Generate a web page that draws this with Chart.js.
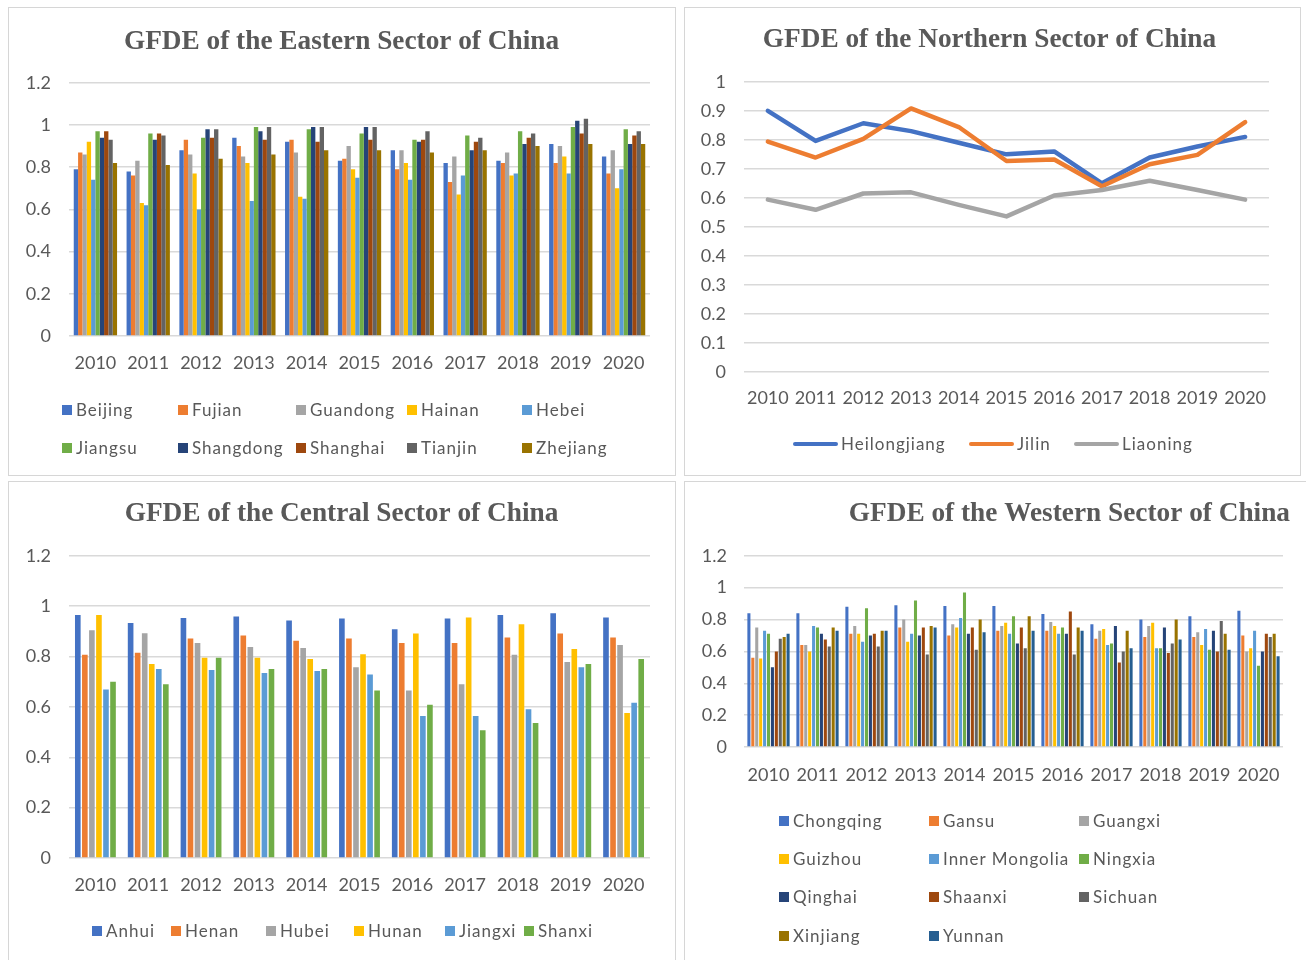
<!DOCTYPE html>
<html><head><meta charset="utf-8">
<script src="https://cdn.jsdelivr.net/npm/chart.js@4.4.0/dist/chart.umd.min.js"></script>
<style>
html,body{margin:0;padding:0;background:#fff;width:1306px;height:960px;overflow:hidden;position:relative;}
.panel{position:absolute;border:1px solid #d6d6d6;box-sizing:border-box;background:#fff;}
canvas{position:absolute;}
.leg{position:absolute;font-family:Lato,'Open Sans',sans-serif;font-size:17px;letter-spacing:1px;color:#595959;white-space:nowrap;line-height:20px;display:flex;align-items:center;transform:translateY(-50%);}
.leg i{display:inline-block;width:10px;height:10px;margin-right:4px;}
.leg b{display:inline-block;width:45px;height:4px;border-radius:2px;margin-right:3px;}
</style></head>
<body>
<div class="panel" style="left:8px;top:7px;width:668px;height:469px"></div>
<div class="panel" style="left:684px;top:7px;width:617px;height:469px"></div>
<div class="panel" style="left:8px;top:481px;width:668px;height:485px"></div>
<div class="panel" style="left:684px;top:481px;width:630px;height:485px"></div>
<canvas id="c1" width="668" height="469" style="left:8px;top:7px"></canvas>
<canvas id="c2" width="616" height="469" style="left:684px;top:7px"></canvas>
<canvas id="c3" width="668" height="485" style="left:8px;top:481px"></canvas>
<canvas id="c4" width="622" height="485" style="left:684px;top:481px"></canvas>
<script>
// ---------- data ----------
const years = ['2010','2011','2012','2013','2014','2015','2016','2017','2018','2019','2020'];

// Eastern sector
const eastNames = ['Beijing','Fujian','Guandong','Hainan','Hebei','Jiangsu','Shangdong','Shanghai','Tianjin','Zhejiang'];
const eBeijing   = [0.79,0.78,0.88,0.94,0.92,0.83,0.88,0.82,0.83,0.91,0.85];
const eFujian    = [0.87,0.76,0.93,0.90,0.93,0.84,0.79,0.73,0.82,0.82,0.77];
const eGuandong  = [0.86,0.83,0.86,0.85,0.87,0.90,0.88,0.85,0.87,0.90,0.88];
const eHainan    = [0.92,0.63,0.77,0.82,0.66,0.79,0.82,0.67,0.76,0.85,0.70];
const eHebei     = [0.74,0.62,0.60,0.64,0.65,0.75,0.74,0.76,0.77,0.77,0.79];
const eJiangsu   = [0.97,0.96,0.94,0.99,0.98,0.96,0.93,0.95,0.97,0.99,0.98];
const eShangdong = [0.94,0.93,0.98,0.97,0.99,0.99,0.92,0.88,0.91,1.02,0.91];
const eShanghai  = [0.97,0.96,0.94,0.93,0.92,0.93,0.93,0.92,0.94,0.96,0.95];
const eTianjin   = [0.93,0.95,0.98,0.99,0.99,0.99,0.97,0.94,0.96,1.03,0.97];
const eZhejiang  = [0.82,0.81,0.84,0.86,0.88,0.88,0.87,0.88,0.90,0.91,0.91];

// Northern sector
const northNames = ['Heilongjiang','Jilin','Liaoning'];
const nHeilongjiang = [0.90,0.796,0.857,0.83,0.79,0.75,0.76,0.65,0.739,0.777,0.81];
const nJilin        = [0.794,0.739,0.803,0.908,0.844,0.727,0.732,0.64,0.716,0.748,0.861];
const nLiaoning     = [0.594,0.559,0.615,0.619,0.576,0.536,0.608,0.627,0.659,0.627,0.594];

// Central sector
const centNames = ['Anhui','Henan','Hubei','Hunan','Jiangxi','Shanxi'];
const cAnhui   = [0.965,0.933,0.953,0.959,0.943,0.951,0.908,0.951,0.965,0.972,0.955];
const cHenan   = [0.807,0.815,0.871,0.883,0.863,0.871,0.854,0.854,0.875,0.891,0.875];
const cHubei   = [0.904,0.892,0.854,0.838,0.834,0.757,0.665,0.690,0.807,0.778,0.846];
const cHunan   = [0.965,0.770,0.795,0.795,0.790,0.809,0.891,0.955,0.928,0.830,0.576];
const cJiangxi = [0.669,0.750,0.746,0.735,0.742,0.729,0.564,0.564,0.591,0.757,0.616];
const cShanxi  = [0.700,0.690,0.795,0.750,0.750,0.665,0.608,0.507,0.536,0.770,0.790];

// Western sector
const westNames = ['Chongqing','Gansu','Guangxi','Guizhou','Inner Mongolia','Ningxia','Qinghai','Shaanxi','Sichuan','Xinjiang','Yunnan'];
const wChongqing = [0.84,0.84,0.88,0.89,0.885,0.885,0.835,0.77,0.80,0.82,0.855];
const wGansu     = [0.56,0.64,0.71,0.75,0.70,0.73,0.73,0.68,0.69,0.69,0.70];
const wGuangxi   = [0.75,0.64,0.76,0.80,0.77,0.76,0.785,0.73,0.76,0.72,0.60];
const wGuizhou   = [0.555,0.60,0.71,0.66,0.75,0.78,0.76,0.74,0.78,0.64,0.62];
const wInnerMong = [0.73,0.76,0.66,0.71,0.81,0.71,0.71,0.64,0.62,0.74,0.73];
const wNingxia   = [0.71,0.75,0.87,0.92,0.97,0.82,0.75,0.65,0.62,0.61,0.51];
const wQinghai   = [0.50,0.71,0.70,0.70,0.71,0.65,0.71,0.76,0.75,0.73,0.60];
const wShaanxi   = [0.60,0.675,0.71,0.75,0.75,0.75,0.85,0.53,0.59,0.60,0.71];
const wSichuan   = [0.68,0.63,0.63,0.58,0.61,0.62,0.58,0.60,0.65,0.79,0.69];
const wXinjiang  = [0.69,0.75,0.73,0.76,0.80,0.82,0.75,0.73,0.80,0.71,0.71];
const wYunnan    = [0.71,0.73,0.73,0.75,0.72,0.73,0.73,0.62,0.675,0.61,0.57];

// ---------- style ----------
const PALETTE = ['#4472C4','#ED7D31','#A5A5A5','#FFC000','#5B9BD5','#70AD47','#264478','#9E480E','#636363','#997300','#255E91'];
const TXT = '#595959';
const TICKFONT = {family:"Lato, 'Open Sans', sans-serif", size:18};
const TITLEFONT = {family:"'Liberation Serif','Times New Roman',serif", size:27.3, weight:'bold', lineHeight:1.2};

function barSets(names, series){
  return names.map((n,i)=>({label:n,data:series[i],backgroundColor:PALETTE[i],borderWidth:0}));
}

// shifts the title horizontally (Excel places it off the plot-area centre)
const titleShift = {
  id:'titleShift',
  afterLayout(chart, args, opts){
    const t = chart.titleBlock;
    if (t && opts.dx){ t.left += opts.dx; t.right += opts.dx; }
  }
};

function makeChart(id, type, datasets, o){
  return new Chart(document.getElementById(id), {
    type: type,
    data: {labels: years, datasets: datasets},
    plugins: [titleShift],
    options: {
      responsive:false, animation:false, devicePixelRatio:1,
      layout:{padding:o.pad},
      datasets:{bar:{categoryPercentage:o.cat||0.8, barPercentage:o.bar||0.9}},
      plugins:{
        legend:{display:false}, tooltip:{enabled:false},
        titleShift:{dx:o.dx||0},
        title:{display:true, text:o.title, align:o.align||'center', color:TXT, font:TITLEFONT, padding:{top:0,bottom:o.titleGap}}
      },
      scales:{
        x:{offset:true, grid:{display:false,drawTicks:false}, border:{display:false},
           ticks:{color:TXT, font:TICKFONT, padding:o.xPad, autoSkip:false, maxRotation:0, minRotation:0},
           afterFit(s){ s.height = 40; }},
        y:{min:0, max:o.max, border:{display:false},
           grid:{color:'#d9d9d9', lineWidth:1.5, drawTicks:false},
           ticks:{stepSize:o.step, color:TXT, font:TICKFONT, padding:o.yPad, callback:v=>String(Number(Number(v).toFixed(2)))},
           afterFit(s){ s.width = o.yW; }}
      }
    }
  });
}

// Eastern
makeChart('c1','bar', barSets(eastNames,[eBeijing,eFujian,eGuandong,eHainan,eHebei,eJiangsu,eShangdong,eShanghai,eTianjin,eZhejiang]),
  {title:'GFDE of the Eastern Sector of China', dx:12, pad:{left:1,right:26,top:19,bottom:100}, titleGap:24, xPad:16, yPad:18, yW:60, max:1.2, step:0.2, cat:0.82, bar:1.0});

// Northern
const northSeries = [nHeilongjiang,nJilin,nLiaoning];
makeChart('c2','line', northNames.map((n,i)=>({label:n,data:northSeries[i],borderColor:PALETTE[i],backgroundColor:PALETTE[i],borderWidth:4.5,pointRadius:0,tension:0,fill:false,borderJoinStyle:'round',borderCapStyle:'round',order:2-i})),
  {title:'GFDE of the Northern Sector of China', dx:13, pad:{left:0,right:31,top:17,bottom:64}, titleGap:25, xPad:15, yPad:18, yW:60, max:1, step:0.1});

// Central
makeChart('c3','bar', barSets(centNames,[cAnhui,cHenan,cHubei,cHunan,cJiangxi,cShanxi]),
  {title:'GFDE of the Central Sector of China', dx:12, pad:{left:1,right:26,top:17,bottom:68}, titleGap:25, xPad:16, yPad:18, yW:60, max:1.2, step:0.2, cat:0.8, bar:0.8});

// Western
makeChart('c4','bar', barSets(westNames,[wChongqing,wGansu,wGuangxi,wGuizhou,wInnerMong,wNingxia,wQinghai,wShaanxi,wSichuan,wXinjiang,wYunnan]),
  {title:'GFDE of the Western Sector of China', align:'end', dx:7, pad:{left:0,right:23,top:17,bottom:179}, titleGap:25, xPad:17, yPad:17, yW:60, max:1.2, step:0.2, cat:0.88, bar:0.78});

// ---------- HTML legends (layout positions only) ----------
function addLegend(names, xs, ys, cols, kind){
  names.forEach((n,i)=>{
    const d = document.createElement('div');
    d.className = 'leg';
    const c = i % cols, r = Math.floor(i / cols);
    d.style.left = xs[c] + 'px';
    d.style.top = ys[r] + 'px';
    const m = document.createElement(kind==='line'?'b':'i');
    m.style.background = PALETTE[i];
    d.appendChild(m);
    d.appendChild(document.createTextNode(n));
    document.body.appendChild(d);
  });
}
addLegend(eastNames,  [62,178,296,407,522], [410,448], 5, 'box');
addLegend(northNames, [793,969,1074], [444], 3, 'line');
addLegend(centNames,  [92,171,266,354,445,524], [931], 6, 'box');
addLegend(westNames,  [779,929,1079], [821,859,897,936], 3, 'box');
</script>
</body></html>
